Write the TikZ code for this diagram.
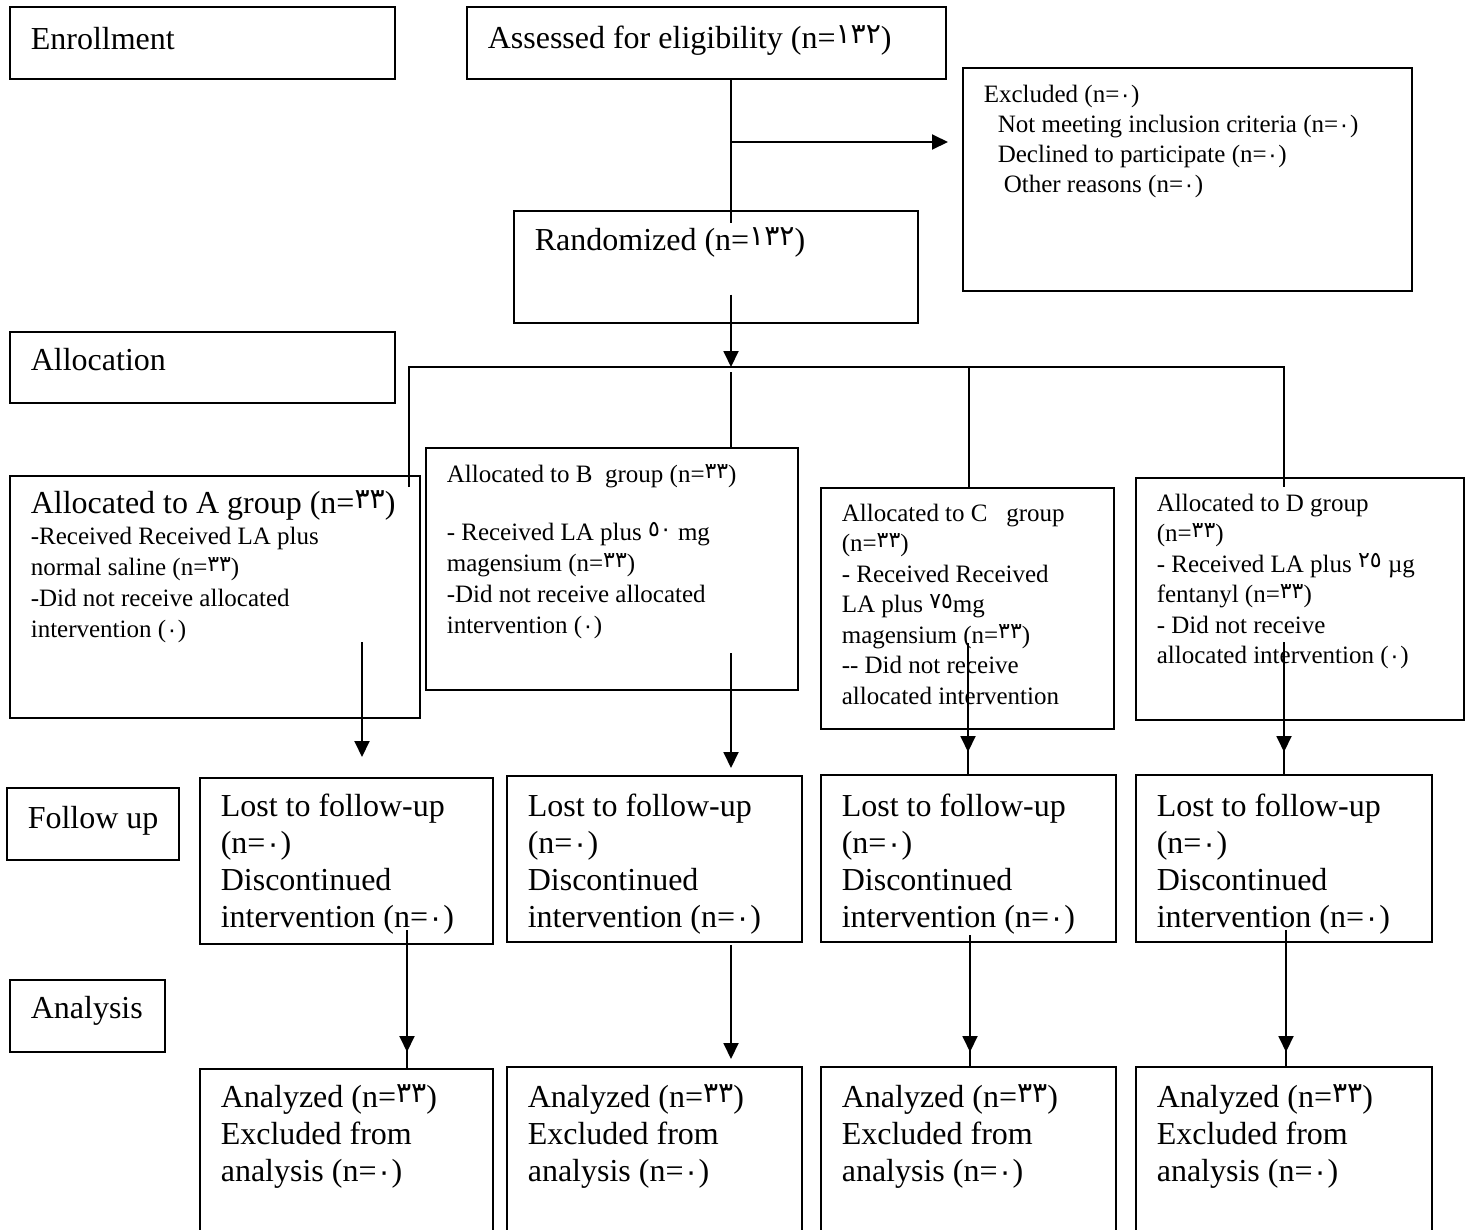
\documentclass[tikz,border=0pt]{standalone}
\usepackage{fontspec}
\setmainfont{Liberation Serif}
\newfontfamily\arabicfont[Scale=0.88]{DejaVu Sans}
\usetikzlibrary{arrows.meta}

\newcommand\ardig[2][0.17em]{\raisebox{#1}{\arabicfont #2}}
\newcommand\cell[4]{\parbox[t][#2][t]{#1}{\leftskip=21pt\rightskip=0pt plus 1fil\parindent=0pt\vspace*{#3}\strut #4}}

\begin{document}
\begin{tikzpicture}[x=1pt, y=-1pt,
  box/.style={draw, line width=1.6pt, anchor=north west, inner sep=0pt},
  bigtxt/.style={font=\fontsize{32}{37}\selectfont},
  smalltxt/.style={font=\fontsize{25}{31}\selectfont},
  link/.style={line width=1.9pt},
  arr/.style={link, -{Triangle[width=15pt,length=16pt]}}]
\useasboundingbox (0,0) rectangle (1467,1229);

% stage labels
\node[box, bigtxt] (enrol) at (9,6) {\cell{385pt}{72pt}{17pt}{Enrollment}};
\node[box, bigtxt] (alloc) at (9,331) {\cell{385pt}{71pt}{13pt}{Allocation}};
\node[box, bigtxt] (follow) at (6,787) {\cell{172pt}{72pt}{15pt}{Follow up}};
\node[box, bigtxt] (anal) at (9,979) {\cell{155pt}{72pt}{13pt}{Analysis}};

% enrollment
\node[box, bigtxt] (assess) at (466,6) {\cell{479pt}{72pt}{16pt}{Assessed for eligibility (n=\ardig{١٣٢})}};
\node[box, font=\fontsize{25}{30}\selectfont] (excl) at (962,67) {\cell{449pt}{223pt}{14pt}{Excluded (n=\ardig[0em]{٠})\\
  \hspace*{14pt}Not meeting inclusion criteria (n=\ardig[0em]{٠})\\
  \hspace*{14pt}Declined to participate (n=\ardig[0em]{٠})\\
  \hspace*{20pt}Other reasons (n=\ardig[0em]{٠})}};
\node[box, bigtxt] (rand) at (513,210) {\cell{404pt}{112pt}{14pt}{Randomized (n=\ardig{١٣٢})}};

% allocation
\node[box, bigtxt] (agrp) at (9,475) {\cell{410pt}{242pt}{12pt}{Allocated to A group (n=\ardig{٣٣})\par
  \fontsize{25}{31}\selectfont -Received Received LA plus\\ normal saline (n=\ardig{٣٣})\\
  -Did not receive allocated\\ intervention (\ardig[0em]{٠})}};
\node[box, smalltxt] (bgrp) at (425,447) {\cell{372pt}{242pt}{13pt}{Allocated to B\ \ group (n=\ardig{٣٣})\\[27pt]
  - Received LA plus \ardig{٥٠} mg\\ magensium (n=\ardig{٣٣})\\
  -Did not receive allocated\\ intervention (\ardig[0em]{٠})}};
\node[box, font=\fontsize{25}{30.5}\selectfont] (cgrp) at (820,487) {\cell{293pt}{241pt}{12pt}{Allocated to C\ \ \ group\\ (n=\ardig{٣٣})\\
  - Received Received\\ LA plus \ardig{٧٥}mg\\ magensium (n=\ardig{٣٣})\\
  -{}- Did not receive\\ allocated intervention}};
\node[box, font=\fontsize{25}{30.5}\selectfont] (dgrp) at (1135,477) {\cell{328pt}{242pt}{12pt}{Allocated to D group\\ (n=\ardig{٣٣})\\
  - Received LA plus \ardig{٢٥} µg\\ fentanyl (n=\ardig{٣٣})\\
  - Did not receive\\ allocated intervention (\ardig[0em]{٠})}};

% follow up
\node[box, bigtxt] (alost) at (199,777) {\cell{293pt}{166pt}{13pt}{Lost to follow-up\\ (n=\ardig[0em]{٠})\\ Discontinued\\ intervention (n=\ardig[0em]{٠})}};
\node[box, bigtxt] (blost) at (506,775) {\cell{295pt}{166pt}{15pt}{Lost to follow-up\\ (n=\ardig[0em]{٠})\\ Discontinued\\ intervention (n=\ardig[0em]{٠})}};
\node[box, bigtxt] (clost) at (820,774) {\cell{295pt}{167pt}{16pt}{Lost to follow-up\\ (n=\ardig[0em]{٠})\\ Discontinued\\ intervention (n=\ardig[0em]{٠})}};
\node[box, bigtxt] (dlost) at (1135,774) {\cell{296pt}{167pt}{16pt}{Lost to follow-up\\ (n=\ardig[0em]{٠})\\ Discontinued\\ intervention (n=\ardig[0em]{٠})}};

% analysis
\node[box, bigtxt] (aana) at (199,1068) {\cell{293pt}{180pt}{13pt}{Analyzed (n=\ardig{٣٣})\\ Excluded from\\ analysis (n=\ardig[0em]{٠})}};
\node[box, bigtxt] (bana) at (506,1066) {\cell{295pt}{180pt}{15pt}{Analyzed (n=\ardig{٣٣})\\ Excluded from\\ analysis (n=\ardig[0em]{٠})}};
\node[box, bigtxt] (cana) at (820,1066) {\cell{295pt}{180pt}{15pt}{Analyzed (n=\ardig{٣٣})\\ Excluded from\\ analysis (n=\ardig[0em]{٠})}};
\node[box, bigtxt] (dana) at (1135,1066) {\cell{296pt}{180pt}{15pt}{Analyzed (n=\ardig{٣٣})\\ Excluded from\\ analysis (n=\ardig[0em]{٠})}};

% connectors
\coordinate (split) at (731,142);
\coordinate (bus) at (731,367);
\coordinate (busa) at (409,367);
\coordinate (busc) at (969,367);
\coordinate (busd) at (1284,367);
\draw[link] (split |- assess.south) -- ([yshift=-13pt]split |- rand.north);
\draw[arr, shorten >=14pt] (split) -- (split -| excl.west);
\draw[arr] ([yshift=29pt]bus |- rand.south) -- (bus);
\draw[link] ([yshift=-12pt]busa |- agrp.north) -- (busa) -- (busd) -- ([yshift=-10pt]busd |- dgrp.north);
\draw[link] ([yshift=-5pt]bus) -- (bus |- bgrp.north);
\draw[link] (busc) -- (busc |- cgrp.north);

\coordinate (a1) at (362,642);
\coordinate (b1) at (731,653);
\coordinate (c1) at (968,643);
\coordinate (d1) at (1284,642);
\draw[arr, shorten >=20pt] (a1) -- (a1 |- alost.north);
\draw[arr, shorten >=7pt] (b1) -- (b1 |- blost.north);
\draw[link] (c1) -- (c1 |- clost.north);
\draw[arr, shorten >=22pt] (c1) -- (c1 |- clost.north);
\draw[link] (d1) -- (d1 |- dlost.north);
\draw[arr, shorten >=22pt] (d1) -- (d1 |- dlost.north);

\coordinate (a2) at (407,930);
\coordinate (b2) at (731,945);
\coordinate (c2) at (970,935);
\coordinate (d2) at (1286,930);
\draw[link] (a2) -- (a2 |- aana.north);
\draw[arr, shorten >=16pt] (a2) -- (a2 |- aana.north);
\draw[arr, shorten >=7pt] (b2) -- (b2 |- bana.north);
\draw[link] (c2) -- (c2 |- cana.north);
\draw[arr, shorten >=14pt] (c2) -- (c2 |- cana.north);
\draw[link] (d2) -- (d2 |- dana.north);
\draw[arr, shorten >=14pt] (d2) -- (d2 |- dana.north);
\end{tikzpicture}
\end{document}
